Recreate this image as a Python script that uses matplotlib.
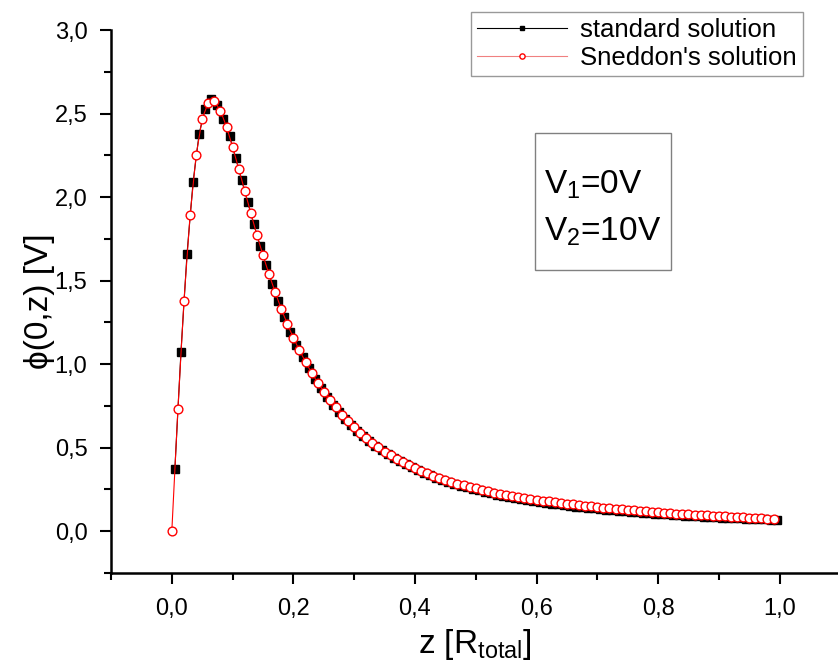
import numpy as np
import matplotlib.pyplot as plt
from matplotlib.patches import Rectangle
from matplotlib.ticker import FixedFormatter, FixedLocator

plt.rcParams['font.family'] = ['Liberation Sans', 'DejaVu Sans']

# standard solution, z = 0.005, 0.015, ... 0.995
z_std = np.arange(100) * 0.01 + 0.005
phi_std = [0.37, 1.07, 1.66, 2.09, 2.38, 2.53, 2.59, 2.55, 2.47, 2.365,
           2.235, 2.10, 1.968, 1.836, 1.71, 1.592, 1.481, 1.378, 1.283, 1.195,
           1.115, 1.043, 0.976, 0.914, 0.858, 0.806, 0.758, 0.715, 0.674, 0.636,
           0.600, 0.568, 0.538, 0.510, 0.485, 0.461, 0.439, 0.419, 0.400, 0.382,
           0.365, 0.350, 0.335, 0.321, 0.308, 0.296, 0.284, 0.273, 0.263, 0.253,
           0.244, 0.235, 0.227, 0.219, 0.212, 0.205, 0.198, 0.192, 0.186, 0.180,
           0.175, 0.170, 0.165, 0.160, 0.156, 0.151, 0.147, 0.143, 0.139, 0.136,
           0.132, 0.129, 0.126, 0.122, 0.119, 0.116, 0.114, 0.111, 0.108, 0.106,
           0.103, 0.101, 0.098, 0.096, 0.094, 0.092, 0.090, 0.088, 0.086, 0.084,
           0.082, 0.080, 0.079, 0.077, 0.075, 0.074, 0.072, 0.071, 0.069, 0.068]

# Sneddon's solution, z = 0.00, 0.01, ... 0.99
z_sn = np.arange(100) * 0.01
phi_sn = [0.0, 0.73, 1.38, 1.89, 2.25, 2.47, 2.565, 2.575, 2.517, 2.421,
          2.30, 2.17, 2.037, 1.904, 1.773, 1.652, 1.537, 1.431, 1.331, 1.241,
          1.157, 1.083, 1.013, 0.948, 0.889, 0.836, 0.785, 0.741, 0.698, 0.658,
          0.621, 0.587, 0.557, 0.528, 0.502, 0.477, 0.455, 0.434, 0.414, 0.396,
          0.379, 0.362, 0.347, 0.333, 0.320, 0.308, 0.296, 0.285, 0.275, 0.265,
          0.256, 0.247, 0.239, 0.231, 0.224, 0.217, 0.211, 0.205, 0.199, 0.193,
          0.188, 0.183, 0.178, 0.173, 0.169, 0.164, 0.160, 0.156, 0.152, 0.148,
          0.144, 0.141, 0.137, 0.134, 0.131, 0.128, 0.125, 0.122, 0.119, 0.116,
          0.113, 0.111, 0.108, 0.106, 0.103, 0.101, 0.099, 0.097, 0.095, 0.093,
          0.091, 0.089, 0.087, 0.085, 0.084, 0.082, 0.079, 0.077, 0.076, 0.074]

xticks = [0.0, 0.2, 0.4, 0.6, 0.8, 1.0]
xtick_labels = ['0,0', '0,2', '0,4', '0,6', '0,8', '1,0']
yticks = [0.0, 0.5, 1.0, 1.5, 2.0, 2.5, 3.0]
ytick_labels = ['0,0', '0,5', '1,0', '1,5', '2,0', '2,5', '3,0']

fig = plt.figure(figsize=(8.38, 6.70), dpi=100)
ax = fig.add_axes([0.1325, 0.1448, 0.8675, 0.8104])

ax.plot(z_std, phi_std, color='black', linewidth=0.8, marker='s', markersize=6,
        markerfacecolor='black', markeredgecolor='black', label='standard solution', zorder=2)
ax.plot(z_sn, phi_sn, color='red', linewidth=0.8, marker='o', markersize=6.3,
        markerfacecolor='white', markeredgecolor='red', markeredgewidth=1.0,
        label="Sneddon's solution", zorder=3)

ax.set_xlim(-0.1, 1.096)
ax.set_ylim(-0.25, 3.0)

ax.spines['top'].set_visible(False)
ax.spines['right'].set_visible(False)
ax.spines['left'].set_linewidth(1.8)
ax.spines['bottom'].set_linewidth(1.8)

ax.xaxis.set_major_locator(FixedLocator(xticks))
ax.xaxis.set_major_formatter(FixedFormatter(xtick_labels))
ax.xaxis.set_minor_locator(FixedLocator([-0.1, 0.1, 0.3, 0.5, 0.7, 0.9]))
ax.yaxis.set_major_locator(FixedLocator(yticks))
ax.yaxis.set_major_formatter(FixedFormatter(ytick_labels))
ax.yaxis.set_minor_locator(FixedLocator([-0.25, 0.25, 0.75, 1.25, 1.75, 2.25, 2.75]))

ax.tick_params(which='major', direction='out', length=8, width=1.5, labelsize=17)
ax.tick_params(which='minor', direction='out', length=5, width=1.5)
ax.tick_params(axis='x', which='major', pad=10)
ax.tick_params(axis='y', which='major', pad=9)

ax.set_xlabel(r'z [$\mathregular{R_{total}}$]', fontsize=24, labelpad=5)
ax.set_ylabel('ϕ(0,z) [V]', fontsize=24, labelpad=0)

leg = ax.legend(loc='upper right', bbox_to_anchor=(0.958, 0.982),
                bbox_transform=fig.transFigure, fontsize=18.5, frameon=True,
                fancybox=False, edgecolor='gray', handlelength=3.5,
                markerscale=0.6, borderpad=0.25, labelspacing=0.12,
                handletextpad=0.5, borderaxespad=0)
leg.get_frame().set_linewidth(1.0)
leg.get_lines()[1].set_color('#f08080')

# V1/V2 box
ax.add_patch(Rectangle((0.597, 1.563), 0.225, 0.82, facecolor='white',
                       edgecolor='gray', linewidth=1.0, zorder=4))
ax.text(0.613, 2.072, '$\\mathregular{V_1}$=0V', fontsize=24, va='center', ha='left', zorder=5)
ax.text(0.613, 1.790, '$\\mathregular{V_2}$=10V', fontsize=24, va='center', ha='left', zorder=5)

fig.savefig('out.png', dpi=100)
